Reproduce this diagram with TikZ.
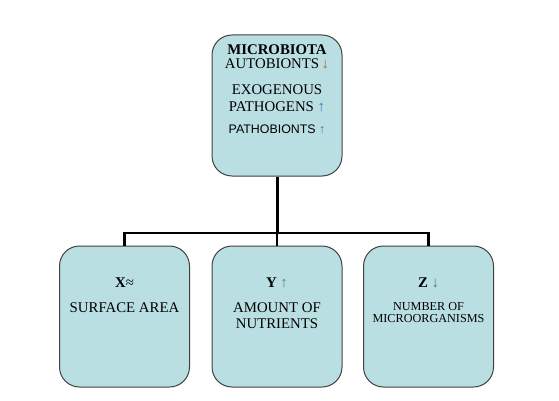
\documentclass[tikz,border=0pt]{standalone}
\usepackage{fontspec}
\setmainfont{Liberation Serif}
\newfontfamily\sansf{Liberation Sans}
\definecolor{boxfill}{HTML}{BADFE3}
\definecolor{boxline}{HTML}{404040}
\definecolor{downor}{HTML}{C0621A}
\definecolor{upblue}{HTML}{2E7BC4}
\definecolor{ygreen}{HTML}{4E8C5A}
\definecolor{zgreen}{HTML}{5A7A60}
\begin{document}
\begin{tikzpicture}[x=1pt,y=-1pt,
  card/.style={draw=boxline, line width=1pt, fill=boxfill, rounded corners=20pt,
    minimum width=130pt, minimum height=141pt, inner sep=0pt},
  txt/.style={anchor=base, inner sep=0pt, font=\fontsize{14.8}{16}\selectfont},
  smalltxt/.style={anchor=base, inner sep=0pt, font=\fontsize{12.2}{14}\selectfont},
  sanstxt/.style={anchor=base, inner sep=0pt, font=\sansf\fontsize{12.4}{14}\selectfont},
  trunk/.style={line width=3pt},
  branch/.style={line width=2.4pt}]
\useasboundingbox (0,0) rectangle (559,401);
\node[card] (top) at (277,105.5) {};
\node[card] (b1) at (124.5,316.5) {};
\node[card] (b2) at (277,316.5) {};
\node[card] (b3) at (428.5,316.5) {};
\coordinate (j) at (277,233);
\draw[trunk] (top.south) -- (j);
\draw[branch] (b1.north) -- (b1.north |- j) -- (b3.north |- j) -- (b3.north);
\draw[branch] (j) -- (b2.north);
% top texts
\node[txt, font=\bfseries\fontsize{14.8}{16}\selectfont] (t1) at (277,54.5) {MICROBIOTA};
\node[txt] (t2) at (277,68.5) {AUTOBIONTS\,\textcolor{downor}{↓}};
\node[txt] (t3) at (277,95) {EXOGENOUS};
\node[txt] (t4) at (277,112) {PATHOGENS \textcolor{upblue}{↑}};
\node[sanstxt] (t5) at (277,133.5) {PATHOBIONTS \textcolor{upblue}{↑}};
% bottom texts
\node[txt] (x1) at (124.5,287.5) {\textbf{X}≈};
\node[txt] (x2) at (124.5,312) {SURFACE AREA};
\node[txt] (y1) at (277,287.5) {\textbf{Y} \textcolor{ygreen}{↑}};
\node[txt] (y2) at (277,312.5) {AMOUNT OF};
\node[txt] (y3) at (277,328) {NUTRIENTS};
\node[txt] (z1) at (428.5,287.5) {\textbf{Z} \textcolor{zgreen}{↓}};
\node[smalltxt] (z2) at (428.5,310.5) {NUMBER OF};
\node[smalltxt] (z3) at (428.5,322.5) {MICROORGANISMS};
\end{tikzpicture}
\end{document}
